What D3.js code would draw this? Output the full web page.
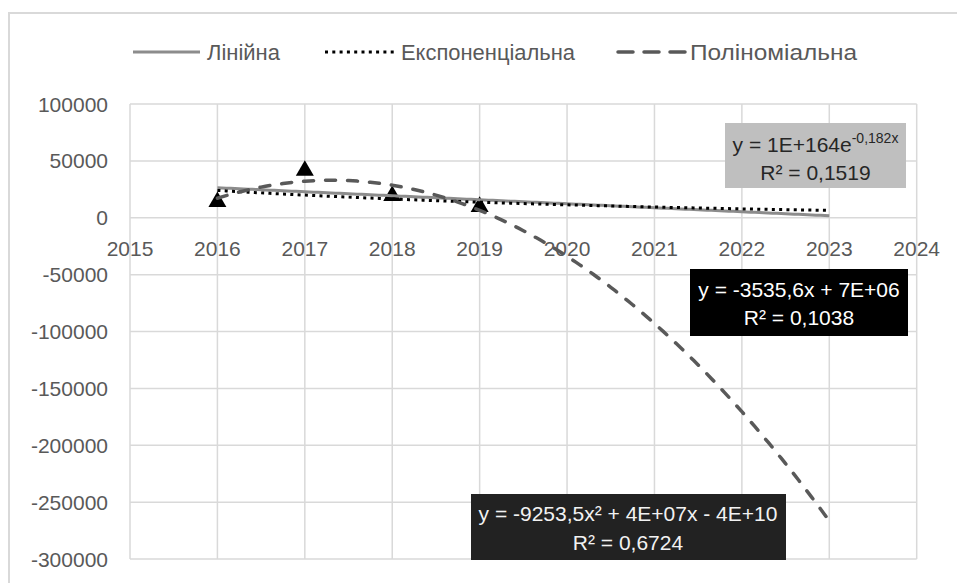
<!DOCTYPE html>
<html><head><meta charset="utf-8">
<script src="https://cdn.jsdelivr.net/npm/d3@7"></script>
<style>
html,body{margin:0;padding:0;background:#fff;}
text{font-family:"Liberation Sans",Arial,sans-serif;}
</style></head>
<body>
<svg id="c" width="957" height="583"></svg>
<script>
// ---- data ----
const years = [2016, 2017, 2018, 2019];
const values = [14000, 41500, 19200, 9700];
const xTicks = [2015, 2016, 2017, 2018, 2019, 2020, 2021, 2022, 2023, 2024];
const yTicks = [100000, 50000, 0, -50000, -100000, -150000, -200000, -250000, -300000];
const legendLabels = ["Лінійна", "Експоненціальна", "Поліноміальна"];
const trendEnd = 2023;
const expLabel = ["y = 1E+164e", "-0,182x", "R² = 0,1519"];
const linLabel = ["y = -3535,6x + 7E+06", "R² = 0,1038"];
const polyLabel = ["y = -9253,5x² + 4E+07x - 4E+10", "R² = 0,6724"];

const svg = d3.select("#c");
const x = d3.scaleLinear().domain([2015, 2024]).range([130, 916.7]);
const y = d3.scaleLinear().domain([-300000, 100000]).range([559, 104]);

// outer frame
svg.append("rect").attr("x", 9).attr("y", 13).attr("width", 970).attr("height", 600)
  .attr("fill", "#fff").attr("stroke", "#d9d9d9").attr("stroke-width", 2);

// gridlines
const grid = svg.append("g");
grid.selectAll("line.v").data(xTicks).join("line")
  .attr("x1", d => x(d)).attr("x2", d => x(d)).attr("y1", y(100000)).attr("y2", y(-300000))
  .attr("stroke", "#d9d9d9").attr("stroke-width", 1.5);
grid.selectAll("line.h").data(yTicks).join("line")
  .attr("x1", x(2015)).attr("x2", x(2024)).attr("y1", d => y(d)).attr("y2", d => y(d))
  .attr("stroke", "#d9d9d9").attr("stroke-width", 1.5);

// y tick labels
svg.append("g").selectAll("text").data(yTicks).join("text")
  .attr("x", 108).attr("y", d => y(d) + 7.5).attr("text-anchor", "end")
  .attr("font-size", 21).attr("fill", "#595959").text(d => String(d));
// x tick labels (next to the zero axis)
svg.append("g").selectAll("text").data(xTicks).join("text")
  .attr("x", d => x(d)).attr("y", y(0) + 38).attr("text-anchor", "middle")
  .attr("font-size", 21).attr("fill", "#595959").text(d => String(d));

// ---- trend fits (least squares from the data) ----
const n = years.length;
const xm = d3.mean(years);
const t = years.map(v => v - xm);
function linFit(ts, ys) {
  const tm = d3.mean(ts), ym = d3.mean(ys);
  let sxy = 0, sxx = 0;
  ts.forEach((v, i) => { sxy += (v - tm) * (ys[i] - ym); sxx += (v - tm) * (v - tm); });
  const b = sxy / sxx;
  return {a: ym - b * tm, b};
}
const lin = linFit(t, values);
const ex = linFit(t, values.map(Math.log));
function quadFit(ts, ys) {
  const S = k => d3.sum(ts, v => Math.pow(v, k));
  const T = k => d3.sum(ts.map((v, i) => Math.pow(v, k) * ys[i]));
  const A = [[n, S(1), S(2)], [S(1), S(2), S(3)], [S(2), S(3), S(4)]];
  const B = [T(0), T(1), T(2)];
  for (let i = 0; i < 3; i++) {
    for (let j = i + 1; j < 3; j++) {
      const f = A[j][i] / A[i][i];
      for (let k = i; k < 3; k++) A[j][k] -= f * A[i][k];
      B[j] -= f * B[i];
    }
  }
  const c = [0, 0, 0];
  for (let i = 2; i >= 0; i--) {
    let s = B[i];
    for (let k = i + 1; k < 3; k++) s -= A[i][k] * c[k];
    c[i] = s / A[i][i];
  }
  return c;
}
const q = quadFit(t, values);
const xs = d3.range(years[0], trendEnd + 0.0001, 0.05);
const linF = v => lin.a + lin.b * (v - xm);
const expF = v => Math.exp(ex.a + ex.b * (v - xm));
const polF = v => q[0] + q[1] * (v - xm) + q[2] * (v - xm) * (v - xm);
const line = f => d3.line().x(d => x(d)).y(d => y(f(d)))(xs);

// markers
svg.append("g").selectAll("path").data(years).join("path")
  .attr("d", d3.symbol(d3.symbolTriangle, 140))
  .attr("transform", (d, i) => `translate(${x(d)},${y(values[i])})`)
  .attr("fill", "#000");

// trend lines
svg.append("path").attr("d", line(linF)).attr("fill", "none")
  .attr("stroke", "#8c8c8c").attr("stroke-width", 3);
svg.append("path").attr("d", line(expF)).attr("fill", "none")
  .attr("stroke", "#000").attr("stroke-width", 3).attr("stroke-dasharray", "3,4.3");
svg.append("path").attr("d", line(polF)).attr("fill", "none")
  .attr("stroke", "#595959").attr("stroke-width", 3.5).attr("stroke-dasharray", "10,12")
  .attr("stroke-linecap", "round");

// legend
const lg = svg.append("g");
lg.append("line").attr("x1", 133).attr("x2", 200).attr("y1", 52).attr("y2", 52)
  .attr("stroke", "#8c8c8c").attr("stroke-width", 3);
lg.append("line").attr("x1", 325).attr("x2", 394).attr("y1", 52).attr("y2", 52)
  .attr("stroke", "#000").attr("stroke-width", 3).attr("stroke-dasharray", "3,4.3");
lg.append("line").attr("x1", 618).attr("x2", 685).attr("y1", 52).attr("y2", 52)
  .attr("stroke", "#595959").attr("stroke-width", 3.5).attr("stroke-dasharray", "15,11")
  .attr("stroke-linecap", "round");
const legX = [207, 401, 690], legW = [73, 174, 167];
legX.forEach((lx, i) => {
  lg.append("text").attr("x", lx).attr("y", 60).attr("font-size", 22)
    .attr("textLength", legW[i]).attr("lengthAdjust", "spacingAndGlyphs")
    .attr("fill", "#595959").text(legendLabels[i]);
});

// equation boxes
function box(x0, y0, x1, y1, fill) {
  svg.append("rect").attr("x", x0).attr("y", y0).attr("width", x1 - x0).attr("height", y1 - y0).attr("fill", fill);
}
box(725, 123, 906, 188, "#bfbfbf");
const t1 = svg.append("text").attr("x", 815.5).attr("y", 152).attr("text-anchor", "middle")
  .attr("font-size", 21).attr("fill", "#262626");
t1.append("tspan").text(expLabel[0]);
t1.append("tspan").attr("font-size", 14).attr("dy", -9).text(expLabel[1]);
svg.append("text").attr("x", 815.5).attr("y", 180).attr("text-anchor", "middle")
  .attr("font-size", 21).attr("fill", "#262626").text(expLabel[2]);

box(690, 269, 908, 336, "#000");
linLabel.forEach((s, i) => svg.append("text").attr("x", 799).attr("y", 297 + i * 28)
  .attr("text-anchor", "middle").attr("font-size", 21).attr("fill", "#fff").text(s));

box(471, 494, 786, 560, "#222");
polyLabel.forEach((s, i) => svg.append("text").attr("x", 628).attr("y", 521 + i * 29)
  .attr("text-anchor", "middle").attr("font-size", 21).attr("fill", "#f2f2f2").text(s));
</script>
</body></html>
